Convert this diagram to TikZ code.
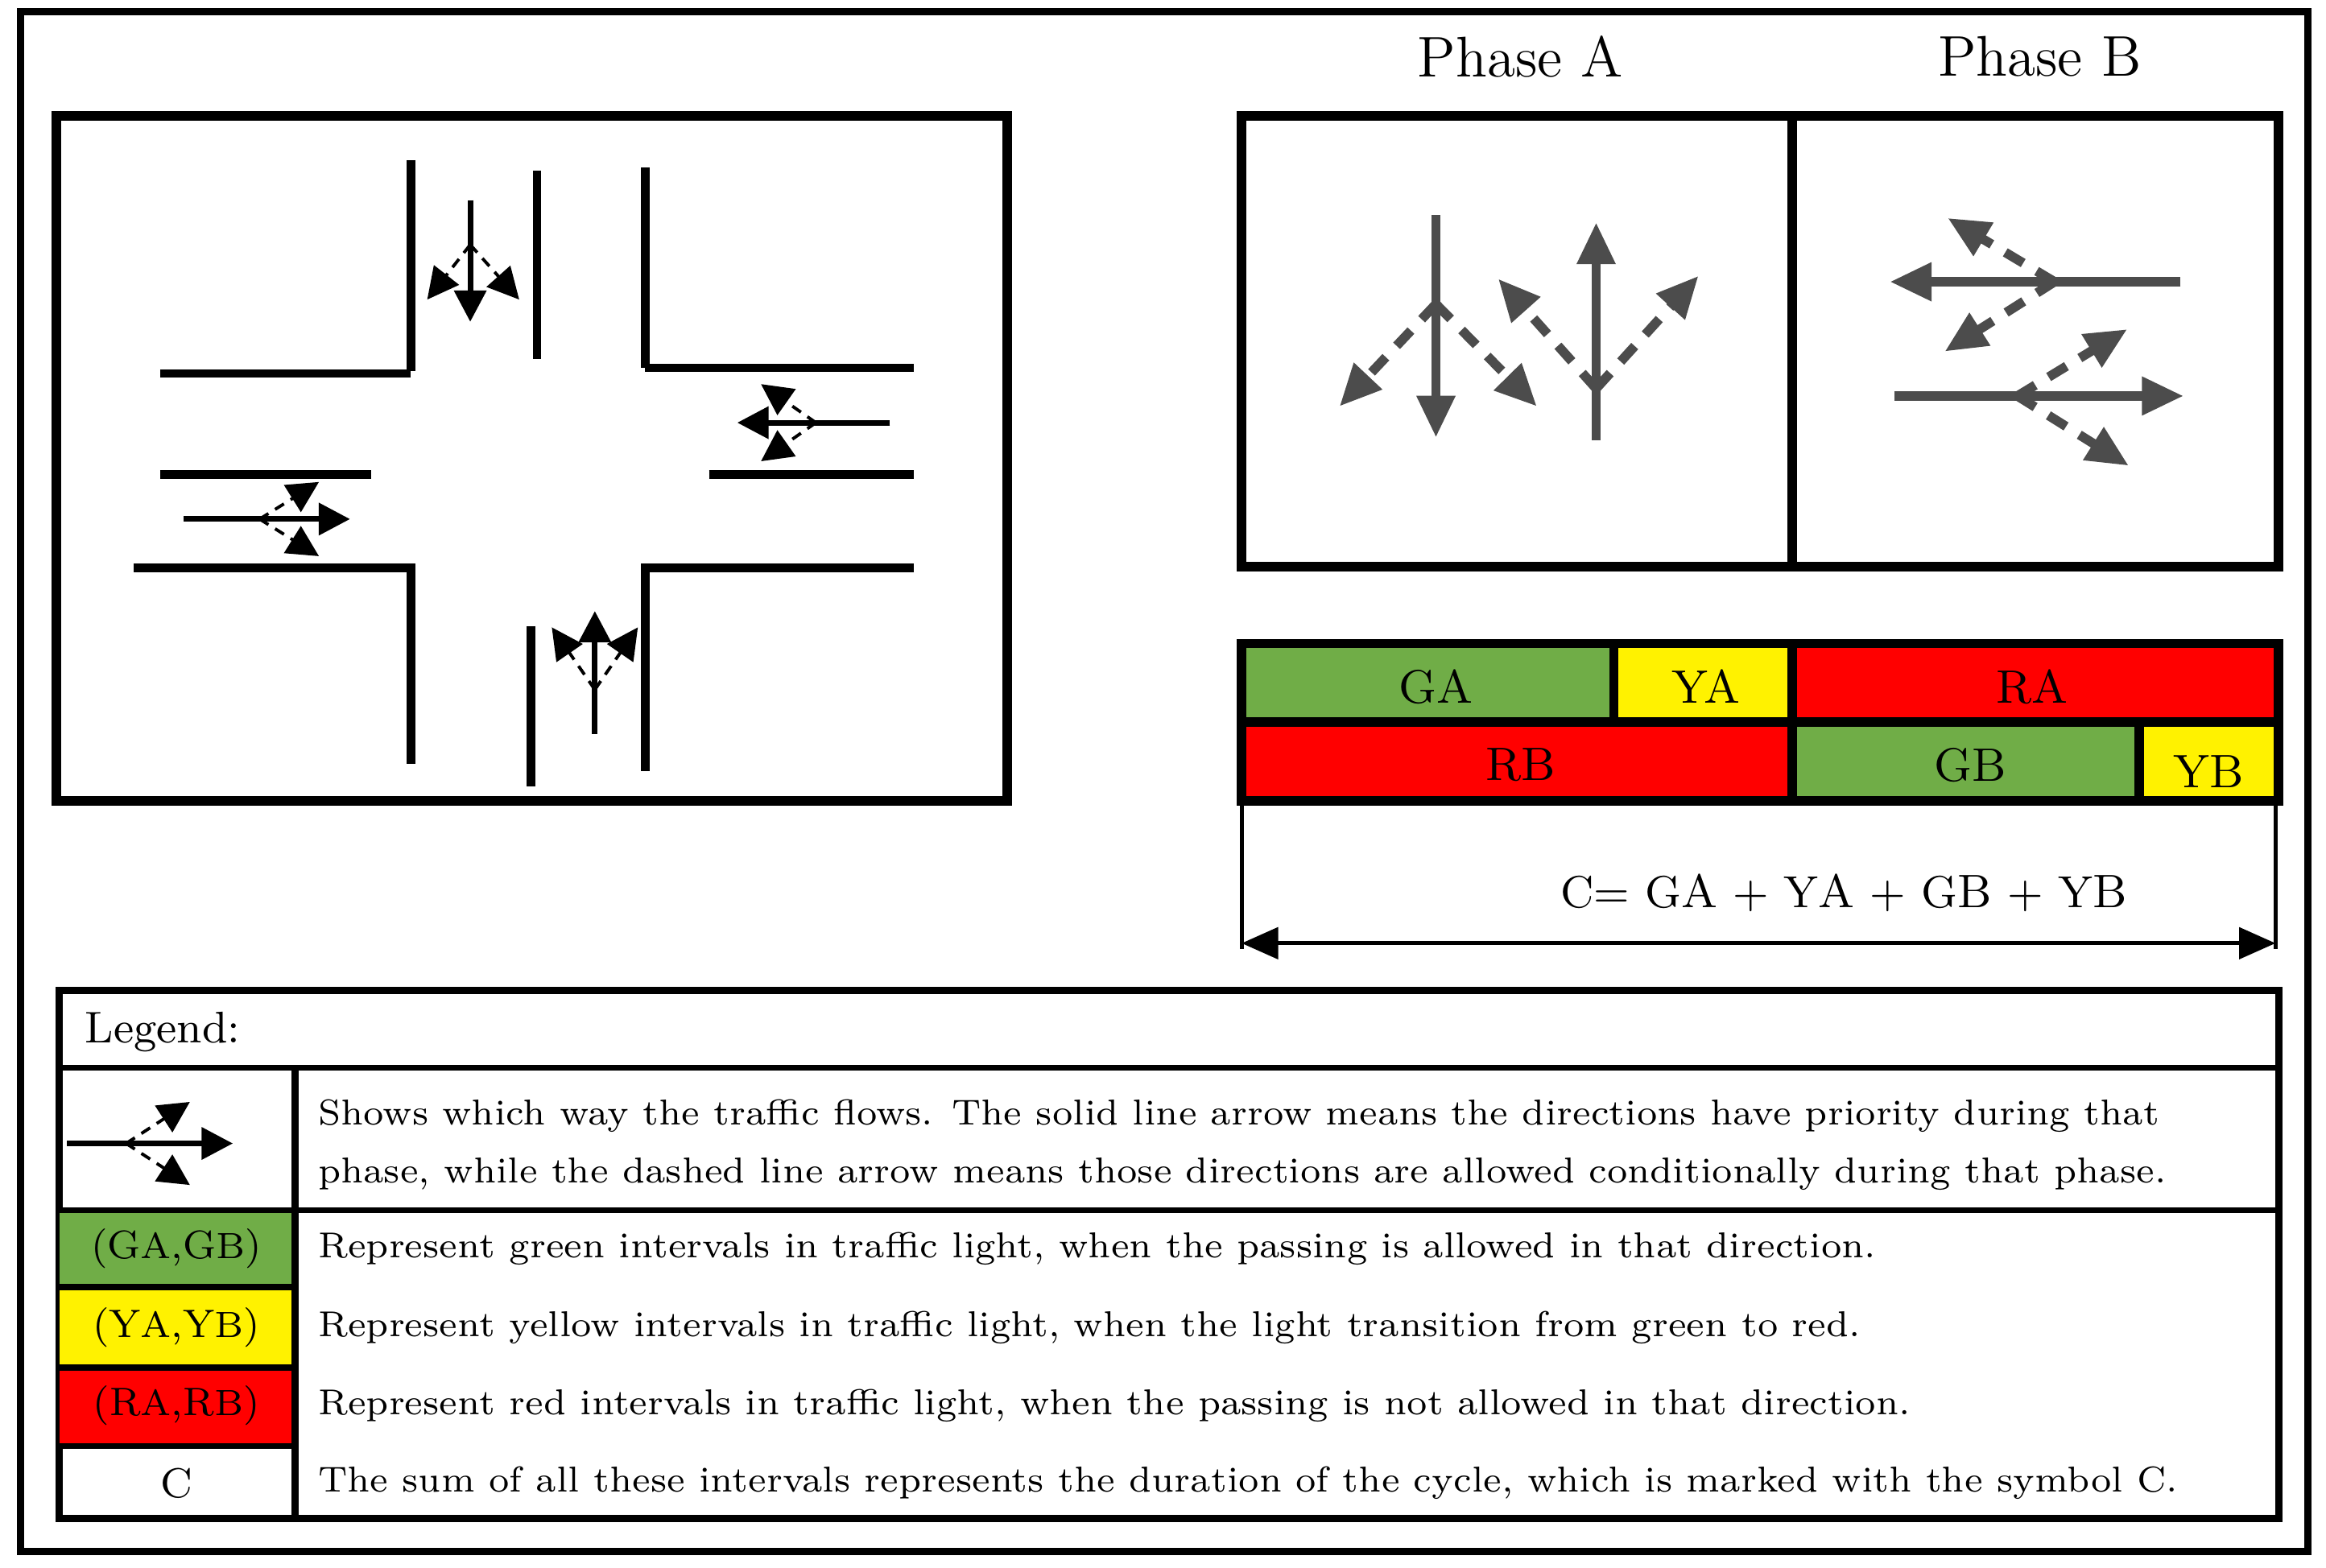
\documentclass[tikz,border=0pt]{standalone}
\usetikzlibrary{arrows.meta}
\begin{document}
\begin{tikzpicture}[x=0.01cm,y=-0.01cm,
 road/.style={line width=1.6pt},
 box/.style={line width=1.8pt},
 flow/.style={line width=1.1pt,-{Triangle[length=6pt,width=6pt]}},
 cond/.style={line width=0.6pt,dash pattern=on 2pt off 1.5pt,-{Triangle[length=6pt,width=6pt]}},
 pflow/.style={line width=1.8pt,draw=black!70,-{Triangle[length=8pt,width=7pt]}},
 pcond/.style={line width=1.8pt,draw=black!70,dash pattern=on 4pt off 3pt,-{Triangle[length=8pt,width=7pt]}},
 bar/.style={draw,line width=1.8pt},
 lt/.style={font=\fontsize{6.9}{9}\selectfont,anchor=west,align=left},
 bl/.style={font=\fontsize{9}{10}\selectfont}]
\definecolor{gg}{RGB}{112,173,71}
\useasboundingbox (0,0) rectangle (1568,1057);
\draw[line width=1.4pt] (14,8) rectangle (1556,1046);
% intersection
\draw[box] (38,78) rectangle (679,540);
\draw[road] (277,108)--(277,250); \draw[road] (362,115)--(362,242); \draw[road] (435,113)--(435,248);
\draw[road] (108,252)--(277,252); \draw[road] (435,248)--(616,248);
\draw[road] (108,320)--(250,320); \draw[road] (90,383)--(277,383)--(277,515);
\draw[road] (478,320)--(616,320); \draw[road] (616,383)--(435,383)--(435,520);
\draw[road] (358,422)--(358,530);
\coordinate (n1) at (317,135); \coordinate (n2) at (317,217); \coordinate (nb) at (317,165);
\draw[flow] (n1)--(n2); \draw[cond] (nb)--(288,202); \draw[cond] (nb)--(350,202);
\coordinate (e1) at (600,285); \coordinate (e2) at (497,285); \coordinate (eb) at (550,285);
\draw[flow] (e1)--(e2); \draw[cond] (eb)--(513,259); \draw[cond] (eb)--(513,311);
\coordinate (w1) at (124,350); \coordinate (w2) at (236,350); \coordinate (wb) at (175,350);
\draw[flow] (w1)--(w2); \draw[cond] (wb)--(215,325); \draw[cond] (wb)--(215,375);
\coordinate (s1) at (401,495); \coordinate (s2) at (401,412); \coordinate (sb) at (401,465);
\draw[flow] (s1)--(s2); \draw[cond] (sb)--(372,423); \draw[cond] (sb)--(430,423);
% phases
\node[font=\fontsize{11}{12}\selectfont] (pa) at (1025,38) {Phase A};
\node[font=\fontsize{11}{12}\selectfont] (pb) at (1375,38) {Phase B};
\draw[box] (837,78) rectangle (1536,382); \draw[box] (1208,78)--(1208,382);
\draw[pflow] (968,145)--(968,295); \draw[pcond] (968,205)--(903,274); \draw[pcond] (968,205)--(1036,274);
\draw[pflow] (1076,297)--(1076,150); \draw[pcond] (1076,262)--(1010,188); \draw[pcond] (1076,262)--(1145,186);
\draw[pflow] (1470,190)--(1274,190); \draw[pcond] (1385,190)--(1313,147); \draw[pcond] (1385,190)--(1311,237);
\draw[pflow] (1277,267)--(1472,267); \draw[pcond] (1360,267)--(1434,222); \draw[pcond] (1360,267)--(1435,314);
% bars
\draw[bar,fill=gg] (837,434) rectangle (1088,487);
\draw[bar,fill=yellow] (1088,434) rectangle (1208,487);
\draw[bar,fill=red] (1208,434) rectangle (1536,487);
\draw[bar,fill=red] (837,487) rectangle (1208,540);
\draw[bar,fill=gg] (1208,487) rectangle (1442,540);
\draw[bar,fill=yellow] (1442,487) rectangle (1536,540);
\node[bl] (ga) at (968,463) {G{\small A}};
\node[bl] (ya) at (1150,463) {Y{\small A}};
\node[bl] (ra) at (1370,463) {R{\small A}};
\node[bl] (rb) at (1025,516) {R{\small B}};
\node[bl] (gb) at (1328,516) {G{\small B}};
\node[bl] (yb) at (1489,520) {Y{\small B}};
\coordinate (c1) at (837,540); \coordinate (c2) at (1534,540);
\coordinate (c3) at (837,640); \coordinate (c4) at (1534,640);
\draw[line width=0.8pt] (c1)--(c3); \draw[line width=0.8pt] (c2)--(c4);
\draw[line width=0.8pt,{Triangle[length=7pt,width=6pt]}-{Triangle[length=7pt,width=6pt]}] (837,636)--(1534,636);
\node[font=\fontsize{8.6}{10}\selectfont] (cf) at (1243,602) {C= G{\small A} + Y{\small A} + G{\small B} + Y{\small B}};
% legend
\draw[line width=1.4pt] (40,668) rectangle (1536,1024);
\fill[gg] (40,816) rectangle (199,868);
\fill[yellow] (40,868) rectangle (199,922);
\fill[red] (40,922) rectangle (199,975);
\draw[line width=1.2pt] (40,720)--(1536,720); \draw[line width=1pt] (40,816)--(1536,816);
\draw[line width=1.2pt] (40,868)--(199,868); \draw[line width=1.2pt] (40,922)--(199,922); \draw[line width=1.2pt] (40,975)--(199,975);
\draw[line width=1.4pt] (199,720)--(199,1024);
\node[lt,font=\fontsize{8.5}{9}\selectfont] at (45,696) {Legend:};
\coordinate (l1) at (45,771); \coordinate (l2) at (157,771); \coordinate (lb) at (85,771);
\draw[flow] (l1)--(l2); \draw[cond] (lb)--(128,743); \draw[cond] (lb)--(128,799);
\node[font=\fontsize{7.6}{9}\selectfont] at (119,842) {(G{\scriptsize A},G{\scriptsize B})};
\node[font=\fontsize{7.6}{9}\selectfont] at (119,895) {(Y{\scriptsize A},Y{\scriptsize B})};
\node[font=\fontsize{7.6}{9}\selectfont] at (119,948) {(R{\scriptsize A},R{\scriptsize B})};
\node[font=\fontsize{8}{9}\selectfont] at (119,1000) {C};
\node[lt] at (202,772) {Shows which way the traffic flows. The solid line arrow means the directions have priority during that\\[2pt] phase, while the dashed line arrow means those directions are allowed conditionally during that phase.};
\node[lt] at (202,842) {Represent green intervals in traffic light, when the passing is allowed in that direction.};
\node[lt] at (202,895) {Represent yellow intervals in traffic light, when the light transition from green to red.};
\node[lt] at (202,948) {Represent red intervals in traffic light, when the passing is not allowed in that direction.};
\node[lt] at (202,1000) {The sum of all these intervals represents the duration of the cycle, which is marked with the symbol C.};
\end{tikzpicture}
\end{document}
